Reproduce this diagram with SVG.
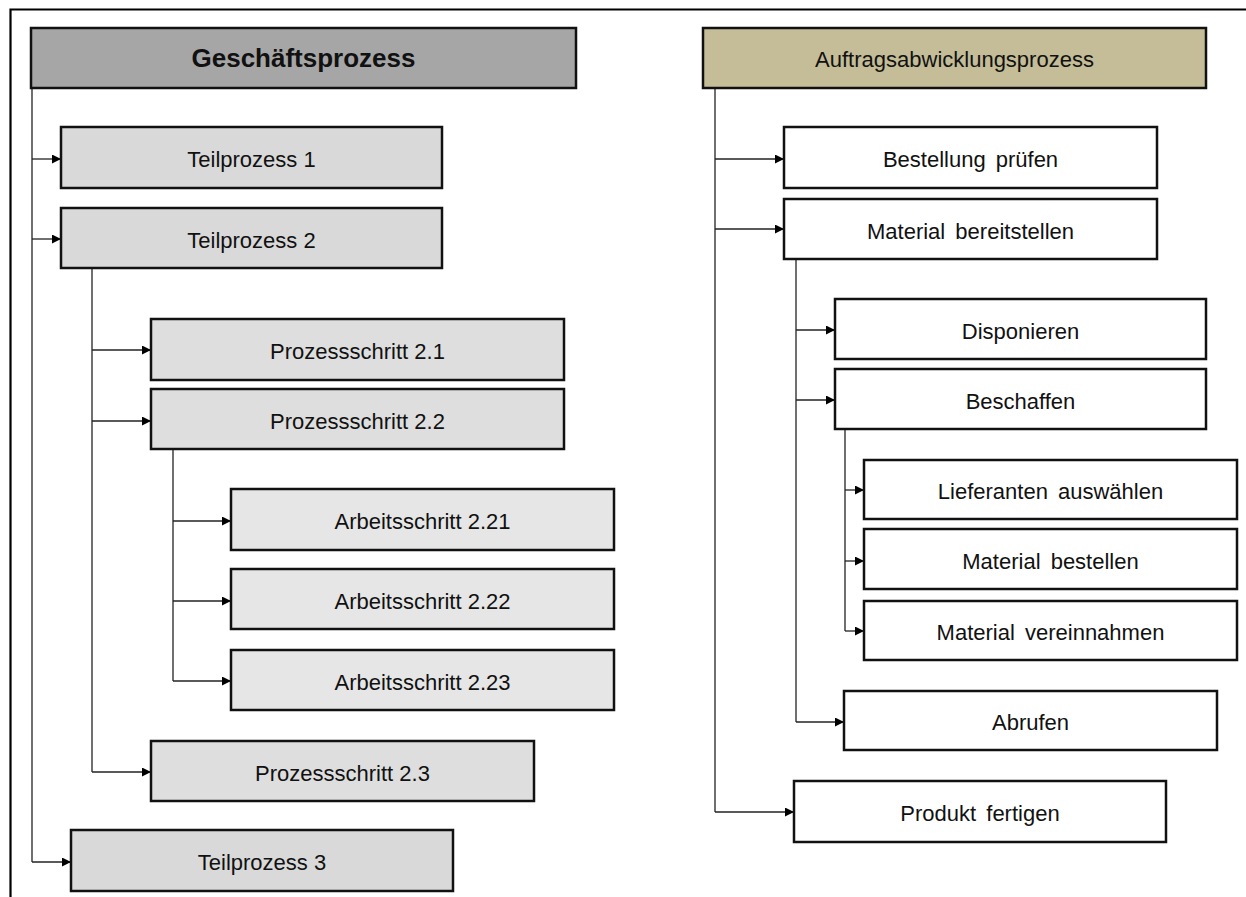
<svg xmlns="http://www.w3.org/2000/svg" width="1246" height="897" viewBox="0 0 1246 897">
  <style>
    .box { stroke: #111; stroke-width: 2.5; }
    .hdr-l { fill: #a6a6a6; }
    .hdr-r { fill: #c4bd97; }
    .tp { fill: #d9d9d9; }
    .ps { fill: #dedede; }
    .as { fill: #e6e6e6; }
    .wt { fill: #ffffff; }
    text { font-family: "Liberation Sans", Arial, sans-serif; font-size: 22px; fill: #111; text-anchor: middle; }
    text.bold { font-weight: bold; font-size: 26px; }
    .right text { word-spacing: 4px; }
    .conn path { fill: none; stroke: #222; stroke-width: 1.3; }
    .frame { fill: none; stroke: #000; stroke-width: 2.2; }
  </style>
  <defs>
    <marker id="arrow" viewBox="0 0 10 10" refX="10" refY="5" markerWidth="9" markerHeight="9" markerUnits="userSpaceOnUse" orient="auto">
      <path d="M0,0 L10,5 L0,10 Z" fill="#000"/>
    </marker>
  </defs>
  <rect width="1246" height="897" fill="#ffffff"/>

  <!-- outer frame: left and top edges -->
  <path class="frame" d="M10.5,897 V9.5 H1246"/>

  <!-- connectors -->
  <g class="conn" id="connectors">
    <!-- left tree -->
    <path d="M32,88 V862"/>
    <path d="M32,159 H61" marker-end="url(#arrow)"/>
    <path d="M32,239 H61" marker-end="url(#arrow)"/>
    <path d="M32,862 H71" marker-end="url(#arrow)"/>
    <path d="M92,268 V772"/>
    <path d="M92,350 H151" marker-end="url(#arrow)"/>
    <path d="M92,421 H151" marker-end="url(#arrow)"/>
    <path d="M92,772 H151" marker-end="url(#arrow)"/>
    <path d="M173,449 V681"/>
    <path d="M173,521 H231" marker-end="url(#arrow)"/>
    <path d="M173,601 H231" marker-end="url(#arrow)"/>
    <path d="M173,681 H231" marker-end="url(#arrow)"/>
    <!-- right tree -->
    <path d="M715,88 V812"/>
    <path d="M715,159 H784" marker-end="url(#arrow)"/>
    <path d="M715,229 H784" marker-end="url(#arrow)"/>
    <path d="M715,812 H794" marker-end="url(#arrow)"/>
    <path d="M796,259 V722"/>
    <path d="M796,330 H835" marker-end="url(#arrow)"/>
    <path d="M796,400 H835" marker-end="url(#arrow)"/>
    <path d="M796,722 H844" marker-end="url(#arrow)"/>
    <path d="M845,429 V631"/>
    <path d="M845,490 H864" marker-end="url(#arrow)"/>
    <path d="M845,561 H864" marker-end="url(#arrow)"/>
    <path d="M845,631 H864" marker-end="url(#arrow)"/>
  </g>

  <!-- left hierarchy -->
  <g id="geschaeftsprozess"><rect class="box hdr-l" x="31" y="28" width="545" height="60"/><text class="bold" x="303.5" y="67">Geschäftsprozess</text></g>
  <g id="teilprozess1"><rect class="box tp" x="61" y="127" width="381" height="61"/><text x="251.5" y="167">Teilprozess 1</text></g>
  <g id="teilprozess2"><rect class="box tp" x="61" y="208" width="381" height="60"/><text x="251.5" y="248">Teilprozess 2</text></g>
  <g id="prozessschritt21"><rect class="box ps" x="151" y="319" width="413" height="61"/><text x="357.5" y="359">Prozessschritt 2.1</text></g>
  <g id="prozessschritt22"><rect class="box ps" x="151" y="389" width="413" height="60"/><text x="357.5" y="429">Prozessschritt 2.2</text></g>
  <g id="arbeitsschritt221"><rect class="box as" x="231" y="489" width="383" height="61"/><text x="422.5" y="529">Arbeitsschritt 2.21</text></g>
  <g id="arbeitsschritt222"><rect class="box as" x="231" y="569" width="383" height="60"/><text x="422.5" y="609">Arbeitsschritt 2.22</text></g>
  <g id="arbeitsschritt223"><rect class="box as" x="231" y="650" width="383" height="60"/><text x="422.5" y="690">Arbeitsschritt 2.23</text></g>
  <g id="prozessschritt23"><rect class="box ps" x="151" y="741" width="383" height="60"/><text x="342.5" y="781">Prozessschritt 2.3</text></g>
  <g id="teilprozess3"><rect class="box tp" x="71" y="830" width="382" height="61"/><text x="262" y="870">Teilprozess 3</text></g>

  <!-- right hierarchy -->
  <g class="right">
    <g id="auftragsabwicklung"><rect class="box hdr-r" x="703" y="28" width="503" height="60"/><text x="954.5" y="67">Auftragsabwicklungsprozess</text></g>
    <g id="bestellung-pruefen"><rect class="box wt" x="784" y="127" width="373" height="61"/><text x="970.5" y="167">Bestellung prüfen</text></g>
    <g id="material-bereitstellen"><rect class="box wt" x="784" y="199" width="373" height="60"/><text x="970.5" y="239">Material bereitstellen</text></g>
    <g id="disponieren"><rect class="box wt" x="835" y="299" width="371" height="60"/><text x="1020.5" y="339">Disponieren</text></g>
    <g id="beschaffen"><rect class="box wt" x="835" y="369" width="371" height="60"/><text x="1020.5" y="409">Beschaffen</text></g>
    <g id="lieferanten-auswaehlen"><rect class="box wt" x="864" y="460" width="373" height="59"/><text x="1050.5" y="499">Lieferanten auswählen</text></g>
    <g id="material-bestellen"><rect class="box wt" x="864" y="529" width="373" height="60"/><text x="1050.5" y="569">Material bestellen</text></g>
    <g id="material-vereinnahmen"><rect class="box wt" x="864" y="601" width="373" height="59"/><text x="1050.5" y="640">Material vereinnahmen</text></g>
    <g id="abrufen"><rect class="box wt" x="844" y="691" width="373" height="59"/><text x="1030.5" y="730">Abrufen</text></g>
    <g id="produkt-fertigen"><rect class="box wt" x="794" y="781" width="372" height="61"/><text x="980" y="821">Produkt fertigen</text></g>
  </g>
</svg>
